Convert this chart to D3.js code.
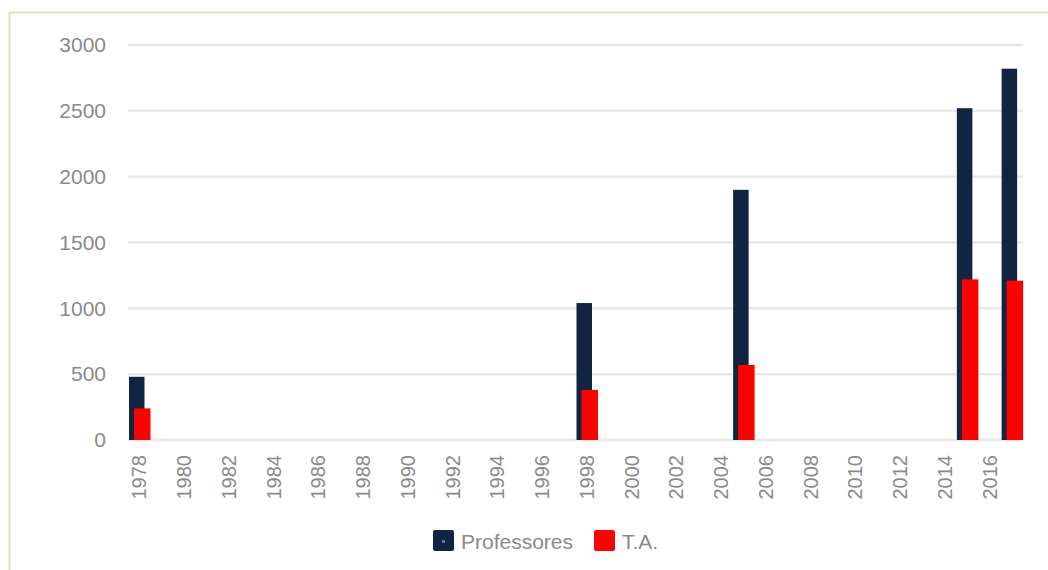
<!DOCTYPE html>
<html>
<head>
<meta charset="utf-8">
<script src="https://cdn.jsdelivr.net/npm/d3@7"></script>
<style>
  body { margin: 0; background: #fff; }
  text { font-family: "Liberation Sans", Arial, sans-serif; fill: #8a8a8a; }
</style>
</head>
<body>
<svg id="chart"></svg>
<script>
// data
var barYears = [1978, 1998, 2005, 2015, 2017];
var professores = [480, 1040, 1900, 2520, 2820];
var ta = [240, 380, 570, 1220, 1210];
var yTicks = [0, 500, 1000, 1500, 2000, 2500, 3000];
var seriesNames = ["Professores", "T.A."];
var seriesColors = ["#0f2541", "#ff0000"];

// category axis: every year from 1978 to 2017, label every other year
var years = d3.range(1978, 2018);
var tickYears = years.filter(function(d) { return d % 2 === 0; });

var W = 1048, H = 570;
var margin = { left: 128, right: 25, top: 45, bottom: 130 };

var svg = d3.select("#chart")
  .attr("width", W)
  .attr("height", H);

// frame (only top and left edges are visible)
svg.append("line")
  .attr("x1", 9.5).attr("x2", W).attr("y1", 12.5).attr("y2", 12.5)
  .attr("stroke", "#e9dec4").attr("stroke-width", 2);
svg.append("line")
  .attr("x1", 9.5).attr("x2", 9.5).attr("y1", 12).attr("y2", H)
  .attr("stroke", "#e9dec4").attr("stroke-width", 2);

// scales
var x = d3.scaleBand()
  .domain(years)
  .range([margin.left, W - margin.right])
  .padding(0);
var y = d3.scaleLinear()
  .domain([0, 3000])
  .range([H - margin.bottom, margin.top]);

// gridlines
svg.append("g")
  .selectAll("line")
  .data(yTicks)
  .enter().append("line")
  .attr("x1", margin.left)
  .attr("x2", W - margin.right)
  .attr("y1", function(d) { return y(d); })
  .attr("y2", function(d) { return y(d); })
  .attr("stroke", "#e8e8e8")
  .attr("stroke-width", 2.5);

// y axis
var yAxis = d3.axisLeft(y).tickValues(yTicks).tickSize(0).tickPadding(22)
  .tickFormat(d3.format("d"));
svg.append("g")
  .attr("transform", "translate(" + margin.left + ",0)")
  .call(yAxis)
  .call(function(g) { g.select(".domain").remove(); })
  .selectAll("text")
  .style("font-size", "21px")
  .attr("fill", "#8e8e8e");

// x axis
var xAxis = d3.axisBottom(x).tickValues(tickYears).tickSize(0);
svg.append("g")
  .attr("transform", "translate(0," + y(0) + ")")
  .call(xAxis)
  .call(function(g) { g.select(".domain").remove(); })
  .selectAll("text")
  .style("font-size", "20px")
  .attr("fill", "#8e8e8e")
  .attr("transform", "rotate(-90)")
  .attr("text-anchor", "end")
  .attr("x", -15)
  .attr("y", 0)
  .attr("dy", "0.36em");

// bars
var bars = barYears.map(function(yr, i) {
  return { year: yr, p: professores[i], t: ta[i] };
});

svg.append("g")
  .selectAll("rect")
  .data(bars)
  .enter().append("rect")
  .attr("x", function(d) { return x(d.year) + 1; })
  .attr("width", 15.5)
  .attr("y", function(d) { return y(d.p); })
  .attr("height", function(d) { return y(0) - y(d.p); })
  .attr("fill", seriesColors[0]);

svg.append("g")
  .selectAll("rect")
  .data(bars)
  .enter().append("rect")
  .attr("x", function(d) { return x(d.year) + 6; })
  .attr("width", 16.5)
  .attr("y", function(d) { return y(d.t); })
  .attr("height", function(d) { return y(0) - y(d.t); })
  .attr("fill", seriesColors[1]);

// legend
var legendX = [433, 594];
var legend = svg.append("g");
seriesNames.forEach(function(name, i) {
  legend.append("rect")
    .attr("x", legendX[i]).attr("y", 530)
    .attr("width", 21).attr("height", 21)
    .attr("rx", 2)
    .attr("fill", seriesColors[i]);
  legend.append("text")
    .attr("x", legendX[i] + 28).attr("y", 541)
    .attr("dy", "0.36em")
    .style("font-size", "21px")
    .text(name);
});
legend.append("rect")
  .attr("x", 442).attr("y", 540).attr("width", 3).attr("height", 3)
  .attr("fill", "#4a78b0");
</script>
</body>
</html>
